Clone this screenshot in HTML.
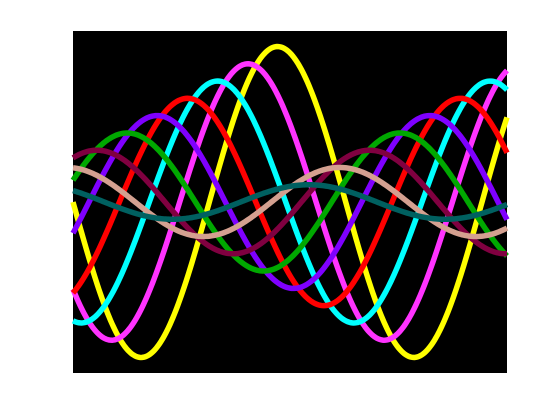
<!DOCTYPE html>
<html><head><meta charset="utf-8">
<style>
html,body{margin:0;padding:0;background:#fff;}
svg{display:block;}
</style></head>
<body>
<svg id="chart" width="560" height="420" viewBox="0 0 560 420" xmlns="http://www.w3.org/2000/svg">
  <rect x="73" y="31" width="434" height="342" fill="#000"/>
  <g id="series"></g>
</svg>
<script>
const seriesNames = ["s1","s2","s3","s4","s5","s6","s7","s8","s9"];
const seriesColors = ["#ffff00","#ff33ff","#00ffff","#ff0000","#7f00ff","#00a800","#800040","#d4a090","#006060"];
const amplitudes = [1.0, 0.889, 0.778, 0.667, 0.556, 0.444, 0.333, 0.222, 0.111];
const peakX = [4.712, 4.03, 3.33, 2.64, 1.94, 1.25, 0.55, -0.14, -0.85];
const xDomain = [0, 10];
const yDomain = [-1.1, 1.1];

const X0 = 73, X1 = 507, Y0 = 373, Y1 = 31;
function xs(v){ return X0 + (v - xDomain[0]) / (xDomain[1] - xDomain[0]) * (X1 - X0); }
function ys(v){ return Y0 - (v - yDomain[0]) / (yDomain[1] - yDomain[0]) * (Y0 - Y1); }

const g = document.getElementById('series');
const NS = "http://www.w3.org/2000/svg";
for (let k = 0; k < seriesNames.length; k++) {
  let d = "";
  const n = 300;
  for (let i = 0; i <= n; i++) {
    const x = xDomain[0] + (xDomain[1] - xDomain[0]) * i / n;
    const y = amplitudes[k] * Math.cos(x - peakX[k]);
    d += (i ? "L" : "M") + xs(x).toFixed(2) + "," + ys(y).toFixed(2);
  }
  const p = document.createElementNS(NS, "path");
  p.setAttribute("d", d);
  p.setAttribute("fill", "none");
  p.setAttribute("stroke", seriesColors[k]);
  p.setAttribute("stroke-width", "5.5");
  
  
  g.appendChild(p);
}
</script>
</body></html>
